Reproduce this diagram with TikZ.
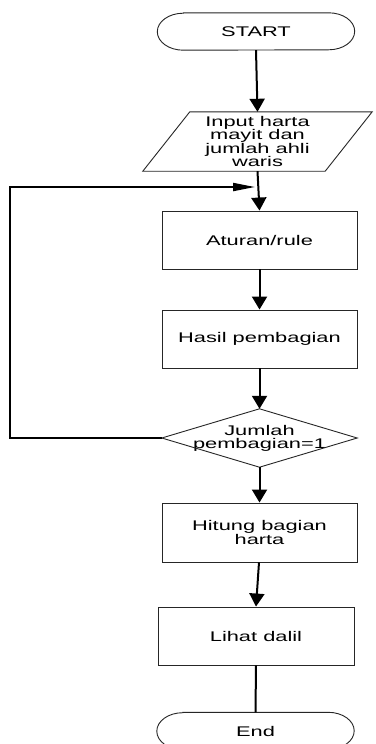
\documentclass[tikz,border=0pt]{standalone}
\usepackage{fontspec}
\newfontfamily\flowfont[FakeStretch=1.56]{Liberation Sans}
\usetikzlibrary{arrows.meta}

\begin{document}
\begin{tikzpicture}[x=1pt,y=1pt,
  every node/.style={font=\flowfont\fontsize{14}{13.2}\selectfont, align=center, inner sep=0pt, text=black},
  box/.style={draw=black!85, line width=0.9pt, minimum width=195pt, minimum height=58pt},
  term/.style={minimum width=197pt, minimum height=37pt},
  io/.style={minimum width=182pt, minimum height=59pt},
  decision/.style={minimum width=195pt, minimum height=58pt},
  outline/.style={draw=black!85, line width=0.9pt},
  link/.style={line width=2pt, -{Triangle[length=13pt,width=15pt]}},
  plain/.style={line width=2pt},
  backlink/.style={line width=2pt, -{Triangle[length=22pt,width=8pt]}}
]
\useasboundingbox (0,0) rectangle (375,-744);
\fill[white] (0,0) rectangle (375,-744);

% flowchart nodes
\node[term] (start) at (256,-31.5) {START};
\node[io] (input) at (257.5,-141.5) {Input harta\\mayit dan\\jumlah ahli\\waris};
\node[box] (rule) at (259.5,-240) {Aturan/rule};
\node[box] (result) at (259.5,-339) {Hasil pembagian};
\node[decision] (check) at (259.5,-438) {Jumlah\\pembagian=1};
\node[box, minimum height=59pt] (count) at (259.5,-532.5) {Hitung bagian\\harta};
\node[box, minimum width=196pt] (dalil) at (256,-636) {Lihat dalil};
\node[term] (finish) at (255.5,-731) {End};

% terminal outlines with elliptical ends
\foreach \n in {start,finish}
  \draw[outline] ([xshift=26pt]\n.north west) -- ([xshift=-26pt]\n.north east)
    arc[start angle=90,end angle=-90,x radius=26pt,y radius=18.5pt]
    -- ([xshift=26pt]\n.south west)
    arc[start angle=270,end angle=90,x radius=26pt,y radius=18.5pt] -- cycle;

% input parallelogram
\draw[outline] ([xshift=23.5pt]input.north west) -- ([xshift=23.5pt]input.north east)
  -- ([xshift=-23.5pt]input.south east) -- ([xshift=-23.5pt]input.south west) -- cycle;

% decision diamond
\draw[outline] (check.north) -- (check.east) -- (check.south) -- (check.west) -- cycle;

% connectors
\draw[link] (start.south) -- (input.north);
\draw[link] (input.south) -- (rule.north);
\draw[link] (rule.south) -- (result.north);
\draw[link] (result.south) -- (check.north);
\draw[link] (check.south) -- (count.north);
\draw[link] ([xshift=-0.5pt]count.south) -- (dalil.north);
\draw[plain] (dalil.south) -- (finish.north);

% loop back to the rule step
\coordinate (back) at (10,-187);
\coordinate (merge) at (255,-187);
\draw[backlink] (check.west) -| (back) -- (merge);
\end{tikzpicture}
\end{document}
